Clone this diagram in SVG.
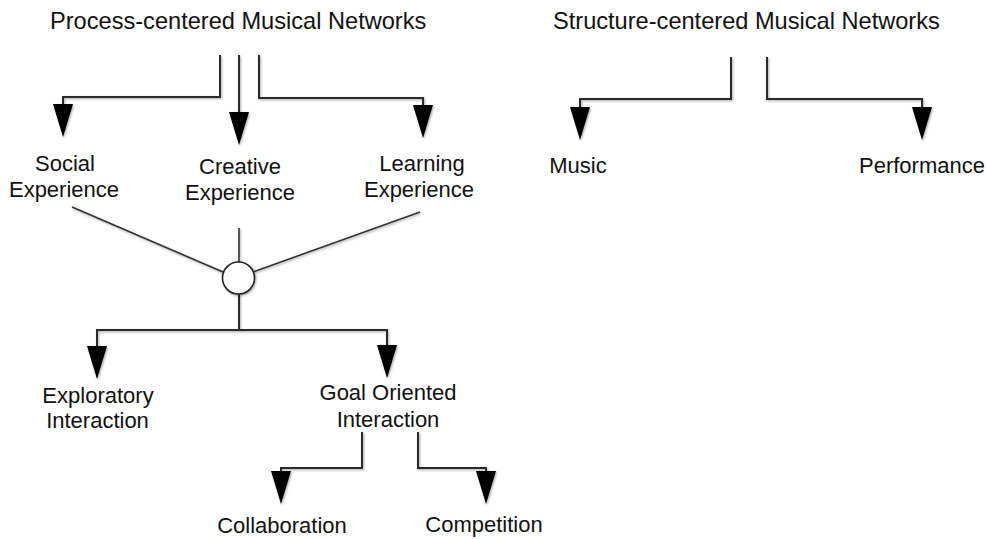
<svg xmlns="http://www.w3.org/2000/svg" width="986" height="539" viewBox="0 0 986 539">
  <style>
    text { font-family: "Liberation Sans", Arial, Helvetica, sans-serif; fill: #111; }
    .title { font-size: 23.6px; }
    .label { font-size: 22px; text-anchor: middle; }
    .wire { fill: none; stroke: #2b2b2b; stroke-width: 2; stroke-linejoin: miter; }
    .spoke { fill: none; stroke: #333; stroke-width: 1.6; }
    .hub { fill: #fff; stroke: #222; stroke-width: 1.6; }
  </style>
  <defs>
    <filter id="soft" x="-20%" y="-20%" width="140%" height="140%">
      <feDropShadow dx="1" dy="1.2" stdDeviation="1" flood-color="#000" flood-opacity="0.35"/>
    </filter>
    <marker id="head" markerUnits="userSpaceOnUse" markerWidth="36" markerHeight="24" refX="0" refY="10" orient="auto" viewBox="0 0 36 24">
      <path d="M0,0 L33,10 L0,20 Z" fill="#000"/>
    </marker>
  </defs>

  <rect width="986" height="539" fill="#fff"/>

  <!-- connectors -->
  <g id="connectors" filter="url(#soft)">
    <!-- process-centered branches -->
    <path class="wire" d="M220,55 V97 H63 V104" marker-end="url(#head)"/>
    <path class="wire" d="M239,55 V112" marker-end="url(#head)"/>
    <path class="wire" d="M259,55 V98 H423 V105" marker-end="url(#head)"/>
    <!-- experiences converge on the hub -->
    <path class="spoke" d="M72,207 L223,272"/>
    <path class="spoke" d="M239,228 V262"/>
    <path class="spoke" d="M420,212 L253,272"/>
    <!-- hub to interaction types -->
    <path class="wire" d="M239,294 V330"/>
    <path class="wire" d="M239,330 H97 V346" marker-end="url(#head)"/>
    <path class="wire" d="M239,330 H387 V345" marker-end="url(#head)"/>
    <!-- goal oriented split -->
    <path class="wire" d="M362,432 V468 H281 V471" marker-end="url(#head)"/>
    <path class="wire" d="M418,432 V468 H486 V471" marker-end="url(#head)"/>
    <!-- structure-centered branches -->
    <path class="wire" d="M731,57 V99 H580 V107" marker-end="url(#head)"/>
    <path class="wire" d="M767,57 V99 H922 V107" marker-end="url(#head)"/>
  </g>

  <g id="hub" filter="url(#soft)">
    <circle class="hub" cx="238.5" cy="278" r="16"/>
  </g>

  <g id="process-title"><text class="title" x="50" y="29">Process-centered Musical Networks</text></g>
  <g id="structure-title"><text class="title" x="553" y="29">Structure-centered Musical Networks</text></g>

  <g id="social"><text class="label" x="65" y="171">Social</text><text class="label" x="64" y="197">Experience</text></g>
  <g id="creative"><text class="label" x="240" y="174">Creative</text><text class="label" x="240" y="200">Experience</text></g>
  <g id="learning"><text class="label" x="422" y="171">Learning</text><text class="label" x="419" y="197">Experience</text></g>

  <g id="exploratory"><text class="label" x="98" y="403">Exploratory</text><text class="label" x="97.5" y="428">Interaction</text></g>
  <g id="goal-oriented"><text class="label" x="388" y="400">Goal Oriented</text><text class="label" x="388" y="427">Interaction</text></g>

  <g id="collaboration"><text class="label" x="282" y="533">Collaboration</text></g>
  <g id="competition"><text class="label" x="484" y="532">Competition</text></g>

  <g id="music"><text class="label" x="578" y="173">Music</text></g>
  <g id="performance"><text class="label" x="922" y="173">Performance</text></g>
</svg>
